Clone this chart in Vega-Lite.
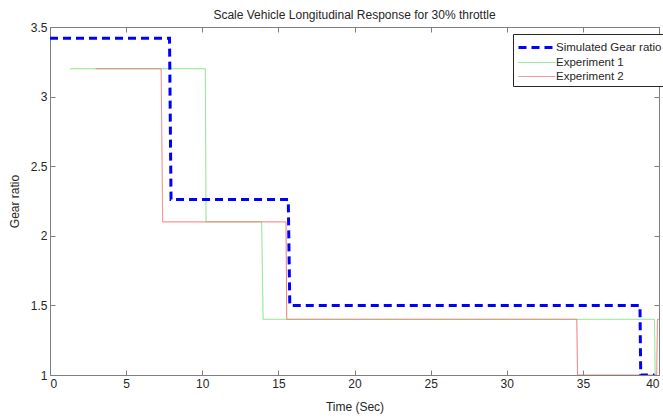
{
  "$schema": "https://vega.github.io/schema/vega-lite/v6.json",
  "width": 609,
  "height": 348,
  "autosize": "none",
  "padding": {"left": 50, "top": 27, "right": 4, "bottom": 43},
  "background": "white",
  "title": {"text": "Scale Vehicle Longitudinal Response for 30% throttle", "fontSize": 12, "fontWeight": "normal", "font": "Liberation Sans", "color": "#262626", "offset": -1},
  "config": {
    "view": {"stroke": "#7f7f7f", "strokeWidth": 1},
    "axis": {"labelFont": "Liberation Sans", "titleFont": "Liberation Sans", "labelFontSize": 12, "titleFontSize": 12, "titleFontWeight": "normal", "labelColor": "#262626", "titleColor": "#262626", "grid": false, "domain": false, "tickColor": "#7f7f7f", "tickSize": -5}
  },
  "resolve": {"axis": {"x": "independent", "y": "independent"}},
  "data": {"values": [
    {"s": "Experiment 1", "t": 1.3, "v": 3.2},
    {"s": "Experiment 1", "t": 10.2, "v": 3.2},
    {"s": "Experiment 1", "t": 10.25, "v": 2.1},
    {"s": "Experiment 1", "t": 13.9, "v": 2.1},
    {"s": "Experiment 1", "t": 14.0, "v": 1.4},
    {"s": "Experiment 1", "t": 39.7, "v": 1.4},
    {"s": "Experiment 1", "t": 39.75, "v": 1.0},
    {"s": "Experiment 1", "t": 39.85, "v": 1.0},
    {"s": "Experiment 2", "t": 3.0, "v": 3.2},
    {"s": "Experiment 2", "t": 7.3, "v": 3.2},
    {"s": "Experiment 2", "t": 7.4, "v": 2.1},
    {"s": "Experiment 2", "t": 15.5, "v": 2.1},
    {"s": "Experiment 2", "t": 15.55, "v": 1.4},
    {"s": "Experiment 2", "t": 34.6, "v": 1.4},
    {"s": "Experiment 2", "t": 34.65, "v": 1.0},
    {"s": "Experiment 2", "t": 39.85, "v": 1.0},
    {"s": "Experiment 2", "t": 39.9, "v": 1.4},
    {"s": "Experiment 2", "t": 40.0, "v": 1.4},
    {"s": "Simulated Gear ratio", "t": 0, "v": 3.42},
    {"s": "Simulated Gear ratio", "t": 7.85, "v": 3.42},
    {"s": "Simulated Gear ratio", "t": 7.95, "v": 2.26},
    {"s": "Simulated Gear ratio", "t": 15.65, "v": 2.26},
    {"s": "Simulated Gear ratio", "t": 15.75, "v": 1.5},
    {"s": "Simulated Gear ratio", "t": 38.75, "v": 1.5},
    {"s": "Simulated Gear ratio", "t": 38.8, "v": 1.0},
    {"s": "Simulated Gear ratio", "t": 39.7, "v": 1.0}
  ]},
  "layer": [
    {
      "mark": {"type": "line", "clip": true},
      "encoding": {
        "x": {"field": "t", "type": "quantitative", "scale": {"domain": [0, 40], "nice": false}, "axis": {"title": "Time (Sec)", "values": [0,5,10,15,20,25,30,35,40], "labelPadding": 8, "titlePadding": 12}},
        "y": {"field": "v", "type": "quantitative", "scale": {"domain": [1, 3.5], "nice": false, "zero": false}, "axis": {"title": "Gear ratio", "values": [1,1.5,2,2.5,3,3.5], "format": "~g", "labelPadding": 8, "titlePadding": 9}},
        "color": {"field": "s", "type": "nominal", "scale": {"domain": ["Simulated Gear ratio", "Experiment 1", "Experiment 2"], "range": ["#0000ff", "#7ee27e", "#f07878"]},
          "legend": {"title": null, "orient": "none", "legendX": 463, "legendY": 7, "symbolType": "M-1,0H3.6", "symbolSize": 256, "labelFont": "Liberation Sans", "labelFontSize": 11.5, "labelColor": "#262626", "strokeColor": "#262626", "fillColor": "white", "padding": 4, "rowPadding": -1, "labelOffset": 20, "cornerRadius": 0}},
        "strokeDash": {"field": "s", "type": "nominal", "scale": {"domain": ["Simulated Gear ratio", "Experiment 1", "Experiment 2"], "range": [[8, 5], [1, 0], [1, 0]]}},
        "strokeWidth": {"field": "s", "type": "nominal", "scale": {"type": "ordinal", "domain": ["Simulated Gear ratio", "Experiment 1", "Experiment 2"], "range": [3, 1, 1]}}
      }
    },
    {
      "mark": {"type": "rule", "opacity": 0},
      "data": {"values": [{"t": 0, "v": 1}]},
      "encoding": {
        "x": {"field": "t", "type": "quantitative", "axis": {"orient": "top", "labels": false, "title": null, "values": [0,5,10,15,20,25,30,35,40]}},
        "y": {"field": "v", "type": "quantitative", "axis": {"orient": "right", "labels": false, "title": null, "values": [1,1.5,2,2.5,3,3.5]}}
      }
    }
  ]
}
